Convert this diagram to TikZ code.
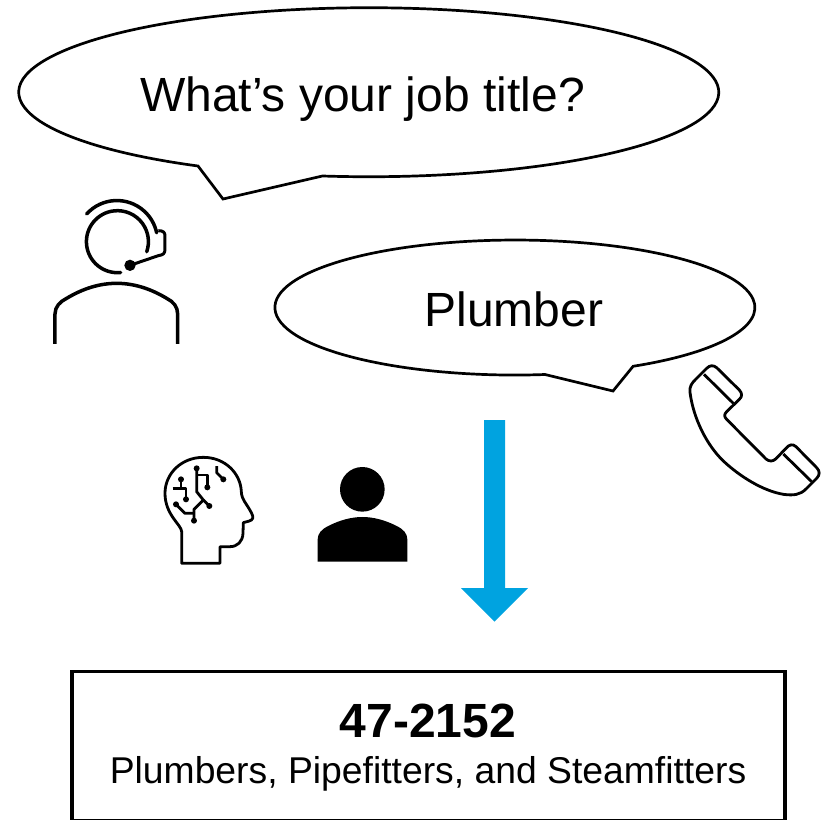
\documentclass[tikz,border=0pt]{standalone}
\usepackage{fontspec}
\setmainfont{Liberation Sans}
\definecolor{arrowblue}{RGB}{0,163,224}
\tikzset{
  bubble/.style={draw=black,line width=2.7pt,fill=white,line join=miter},
  iconline/.style={draw=black,line width=3.5pt,line cap=round,line join=round},
  buttline/.style={draw=black,line width=3.5pt,line cap=butt,line join=round},
  earpiece/.style={draw=black,line width=3pt,line join=round},
  thinicon/.style={draw=black,line width=2.8pt,line join=round},
  dot/.style={fill=black},
  bigtext/.style={inner sep=0pt,font=\fontsize{48}{56}\selectfont},
  smalltext/.style={inner sep=0pt,font=\fontsize{37.3}{42}\selectfont},
  boldtext/.style={inner sep=0pt,font=\fontsize{48}{56}\selectfont\bfseries},
  boxframe/.style={draw=black,line width=3.5pt,fill=white},
}
\begin{document}
\begin{tikzpicture}[x=1pt,y=-1pt]
\useasboundingbox (0,0) rectangle (827,819);
% speech bubble 1
\draw[bubble] (198,166) arc[start angle=119.2,end angle=457.6,x radius=350,y radius=84.5] -- (223,199) -- cycle;
\node[bigtext] (question) at (362.5,99) {What’s your job title?};
% speech bubble 2
\draw[bubble] (545,374.5) arc[start angle=82.8,end angle=420.5,x radius=240,y radius=67.5] -- (613,391) -- cycle;
\node[bigtext] (answer) at (514,309) {Plumber};
% agent with headset
\begin{scope}[shift={(30,190)},x=0.3333pt,y=-0.3333pt]
\draw[iconline] (272,247.5) arc[start angle=84,end angle=379,radius=93];
\draw[iconline] (170,72) arc[start angle=222,end angle=348,radius=122];
\draw[earpiece] (385,122) .. controls (400,122) and (405,127) .. (405,138) -- (405,178) .. controls (405,190) and (400,195) .. (385,197) -- (300,226);
\fill[dot] (300,226) circle[radius=17];
\draw[buttline] (75,462) -- (75,372) .. controls (75,350) and (90,335) .. (110,325) .. controls (160,295) and (210,280) .. (260,280) .. controls (310,280) and (360,295) .. (410,325) .. controls (430,335) and (443,350) .. (443,372) -- (443,462);
\end{scope}
% head with circuits
\begin{scope}[shift={(150,450)},x=0.3333pt,y=-0.3333pt]
\draw[thinicon] (95,340) -- (95,245) .. controls (95,225) and (45,195) .. (45,130) .. controls (45,70) and (95,22) .. (160,22) .. controls (225,22) and (272,70) .. (274,125) .. controls (275,150) and (290,160) .. (305,190) .. controls (312,203) and (308,210) .. (298,213) -- (280,218) -- (279,250) .. controls (278,275) and (262,290) .. (240,290) -- (210,290) -- (210,340) -- cycle;
\draw[thinicon] (140,55) -- (140,125) -- (160,150) -- (132,178) -- (132,212);
\draw[thinicon] (160,150) -- (178,168);
\draw[thinicon] (140,75) -- (172,75) -- (172,112);
\draw[thinicon] (78,163) -- (105,190) -- (134,190);
\draw[thinicon] (93,88) -- (93,115);
\draw[thinicon] (68,115) -- (108,115) -- (108,148);
\draw[thinicon] (200,48) -- (200,68) -- (220,88);
\foreach \px/\py in {140/55,172/112,178/168,132/212,78/163,93/88,108/148,220/88}
  \fill[dot] (\px,\py) circle[radius=9];
\end{scope}
% person
\begin{scope}[shift={(300,450)},x=0.3333pt,y=-0.3333pt]
\fill[dot] (187,118) circle[radius=67];
\fill[dot] (53,335) -- (53,268) .. controls (53,250) and (65,238) .. (85,228) .. controls (120,210) and (155,201) .. (187,201) .. controls (220,201) and (255,210) .. (290,228) .. controls (310,238) and (322,250) .. (322,268) -- (322,335) -- cycle;
\end{scope}
% telephone
\begin{scope}[shift={(680,355)},x=0.3333pt,y=-0.3333pt]
\draw[thinicon] (30,112) .. controls (28,95) and (35,85) .. (45,75) -- (80,40) .. controls (90,30) and (100,30) .. (110,38) -- (178,105) .. controls (187,115) and (187,125) .. (178,133) -- (140,170) .. controls (132,178) and (132,185) .. (140,193) -- (258,312) .. controls (268,320) and (278,320) .. (287,312) -- (318,280) .. controls (328,268) and (338,266) .. (348,275) -- (410,338) .. controls (420,348) and (420,360) .. (410,370) -- (378,402) .. controls (360,420) and (340,422) .. (310,418) .. controls (250,408) and (180,365) .. (130,318) .. controls (80,270) and (40,190) .. (30,112) -- cycle;
\draw[thinicon] (72,58) -- (160,145);
\draw[thinicon] (310,297) -- (395,380);
\end{scope}
% arrow
\fill[arrowblue] (484,420) -- (505,420) -- (505,588) -- (528,588) -- (494.5,621.5) -- (461,588) -- (484,588) -- cycle;
% result box
\draw[boxframe] (71.8,671.5) rectangle (785,820.5);
\node[boldtext] (code) at (428,721) {47-2152};
\node[smalltext] (title) at (428,774) {Plumbers, Pipefitters, and Steamfitters};
\end{tikzpicture}
\end{document}
